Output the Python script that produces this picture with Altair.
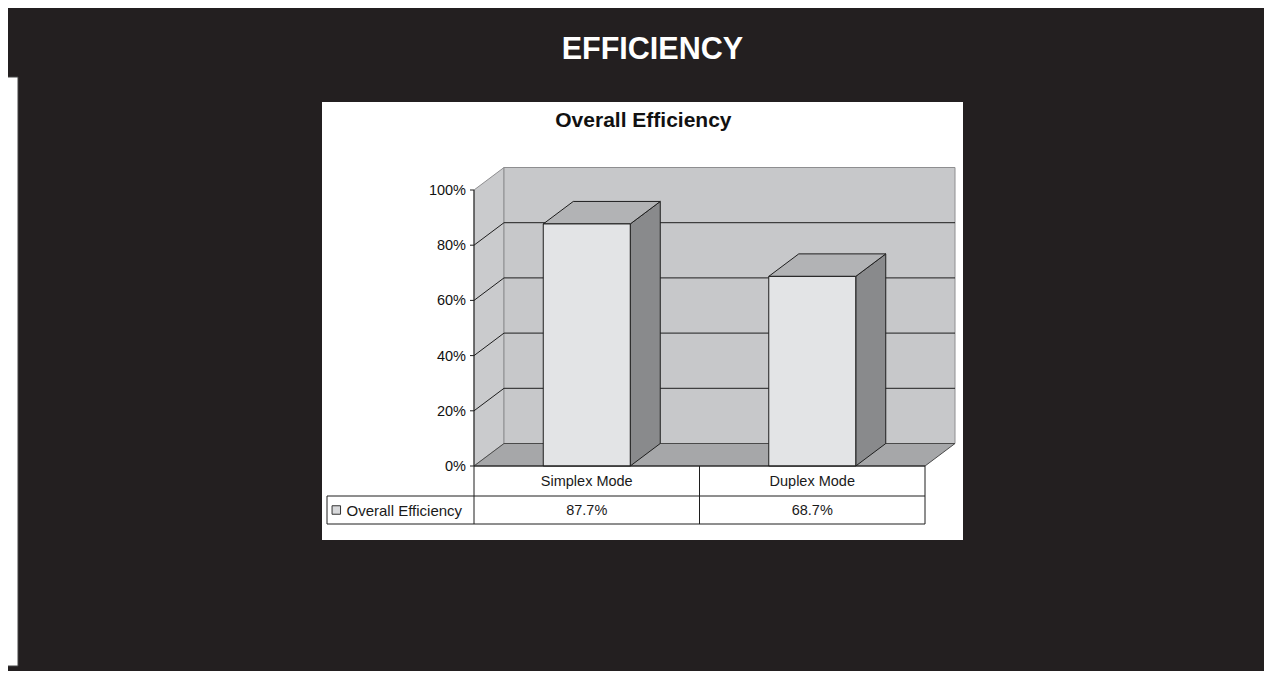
import altair as alt
import pandas as pd

# ---------------- data ----------------
categories = ["Simplex Mode", "Duplex Mode"]
efficiency = [0.877, 0.687]
value_labels = ["87.7%", "68.7%"]
tick_values = [0.0, 0.2, 0.4, 0.6, 0.8, 1.0]
tick_labels = ["0%", "20%", "40%", "60%", "80%", "100%"]
series_name = "Overall Efficiency"
page_title = "EFFICIENCY"
chart_title = "Overall Efficiency"

# ---------------- layout / style constants (pixels) ----------------
PW, PH = 641, 438          # white panel = plot area
AX_X = 152                 # y-axis position inside the panel
BASE_Y = 364               # 0% line inside the panel
UX = 225.5                 # px per category
UY = 276.0                 # px per 100%
DEPTH_X_PX, DEPTH_Y_PX = 30.0, 22.5
BAR_W_PX = 87.0
ROW1_PX, ROW2_PX = 30.0, 58.0
LEG_LEFT_PX = 147.0
TICK_PX = 4.0
LABEL_GAP_PX = 8.0
FONT = "Liberation Sans"

BG = "#231f20"
WALL = "#c7c8ca"
LEFT_WALL = "#cacbcd"
FLOOR = "#a6a7a9"
BAR_FRONT = "#e3e4e6"
BAR_TOP = "#b2b3b5"
BAR_SIDE = "#898a8c"
EDGE_GRAY = "#8e8e90"
INK = "#1e1e1e"

DX = DEPTH_X_PX / UX
DY = DEPTH_Y_PX / UY
BW = BAR_W_PX / UX
R1 = ROW1_PX / UY
R2 = ROW2_PX / UY
XL = -LEG_LEFT_PX / UX
n = len(categories)

xs = alt.Scale(domain=[-AX_X / UX, (PW - AX_X) / UX], nice=False, zero=False)
ys = alt.Scale(domain=[-(PH - BASE_Y) / UY, BASE_Y / UY], nice=False, zero=False)


def X(f):
    return alt.X(f, type="quantitative", scale=xs, axis=None, stack=False)


def Y(f):
    return alt.Y(f, type="quantitative", scale=ys, axis=None, stack=False)


# ---------------- walls & floor ----------------
left_wall = alt.Chart(pd.DataFrame({"x": [0, DX], "lo": [0, DY], "hi": [1, 1 + DY]})).mark_area(
    fill=LEFT_WALL, stroke=EDGE_GRAY, strokeWidth=1, interpolate="linear"
).encode(x=X("x"), y=Y("hi"), y2="lo")

back_wall = alt.Chart(pd.DataFrame({"x": [DX], "x2": [n + DX], "y": [DY], "y2": [1 + DY]})).mark_rect(
    fill=WALL, stroke=EDGE_GRAY, strokeWidth=1
).encode(x=X("x"), x2="x2", y=Y("y"), y2="y2")

floor = alt.Chart(pd.DataFrame({"y": [0, DY], "l": [0, DX], "r": [n, n + DX]})).mark_area(
    fill=FLOOR, stroke="#4a4a4a", strokeWidth=1, orient="horizontal", interpolate="linear"
).encode(y=Y("y"), x=X("l"), x2="r")

grid_vals = tick_values[1:-1]
grid_back = alt.Chart(pd.DataFrame({"y": [t + DY for t in grid_vals], "x": DX, "x2": n + DX})).mark_rule(
    color=INK, strokeWidth=1
).encode(x=X("x"), x2="x2", y=Y("y"))

gl_rows = []
for t in grid_vals:
    gl_rows.append({"t": t, "x": 0.0, "y": t})
    gl_rows.append({"t": t, "x": DX, "y": t + DY})
grid_left = alt.Chart(pd.DataFrame(gl_rows)).mark_line(color=INK, strokeWidth=1).encode(
    x=X("x"), y=Y("y"), detail="t:N"
)

# ---------------- bars ----------------
front_rows, side_rows, top_rows = [], [], []
for i, (c, v) in enumerate(zip(categories, efficiency)):
    xl = i + 0.5 - BW / 2
    xr = i + 0.5 + BW / 2
    front_rows.append({"cat": c, "xl": xl, "xr": xr, "lo": 0.0, "v": v})
    side_rows.append({"cat": c, "x": xr, "lo": 0.0, "hi": v})
    side_rows.append({"cat": c, "x": xr + DX, "lo": DY, "hi": v + DY})
    top_rows.append({"cat": c, "y": v, "l": xl, "r": xr})
    top_rows.append({"cat": c, "y": v + DY, "l": xl + DX, "r": xr + DX})

bar_side = alt.Chart(pd.DataFrame(side_rows)).mark_area(
    fill=BAR_SIDE, stroke=INK, strokeWidth=1, interpolate="linear"
).encode(x=X("x"), y=Y("hi"), y2="lo", detail="cat:N")

bar_top = alt.Chart(pd.DataFrame(top_rows)).mark_area(
    fill=BAR_TOP, stroke=INK, strokeWidth=1, orient="horizontal", interpolate="linear"
).encode(y=Y("y"), x=X("l"), x2="r", detail="cat:N")

bar_front = alt.Chart(pd.DataFrame(front_rows)).mark_rect(
    fill=BAR_FRONT, stroke=INK, strokeWidth=1
).encode(x=X("xl"), x2="xr", y=Y("lo"), y2="v")

# ---------------- y axis: line, ticks, labels ----------------
axis_line = alt.Chart(pd.DataFrame({"x": [0.0], "top": [1.0], "bot": [-R2]})).mark_rule(
    color=INK, strokeWidth=1
).encode(x=X("x"), y=Y("top"), y2="bot")

tick_df = pd.DataFrame({"v": tick_values, "x": -TICK_PX / UX, "x2": 0.0,
                        "lx": -LABEL_GAP_PX / UX, "label": tick_labels})
axis_ticks = alt.Chart(tick_df).mark_rule(color=INK, strokeWidth=1).encode(
    x=X("x"), x2="x2", y=Y("v")
)
axis_labels = alt.Chart(tick_df).mark_text(
    font=FONT, fontSize=14.5, color="#111111", align="right", baseline="middle", dy=1
).encode(x=X("lx"), y=Y("v"), text="label:N")

# ---------------- data table ----------------
h_rules = pd.DataFrame(
    {"y": [0.0, -R1, -R2], "x": [0.0, XL, XL], "x2": [float(n), float(n), float(n)]}
)
table_h = alt.Chart(h_rules).mark_rule(color=INK, strokeWidth=1).encode(x=X("x"), x2="x2", y=Y("y"))

v_rules = pd.DataFrame(
    {"x": [float(k) for k in range(1, n + 1)] + [XL],
     "y": [0.0] * n + [-R1],
     "y2": [-R2] * n + [-R2]}
)
table_v = alt.Chart(v_rules).mark_rule(color=INK, strokeWidth=1).encode(x=X("x"), y=Y("y"), y2="y2")

cat_df = pd.DataFrame({"x": [i + 0.5 for i in range(n)], "y": -R1 / 2, "label": categories})
cat_text = alt.Chart(cat_df).mark_text(
    font=FONT, fontSize=14.5, color="#1a1a1a", baseline="middle", align="center", dy=1
).encode(x=X("x"), y=Y("y"), text="label:N")

val_df = pd.DataFrame({"x": [i + 0.5 for i in range(n)], "y": -(R1 + R2) / 2, "label": value_labels})
val_text = alt.Chart(val_df).mark_text(
    font=FONT, fontSize=14.5, color="#1a1a1a", baseline="middle", align="center", dy=1
).encode(x=X("x"), y=Y("y"), text="label:N")

leg_sq = alt.Chart(pd.DataFrame({"x": [XL + 9.3 / UX], "y": [-(R1 + R2) / 2]})).mark_square(
    size=72, filled=True, color="#d8d9db", stroke="#333333", strokeWidth=1, opacity=1
).encode(x=X("x"), y=Y("y"))

leg_text = alt.Chart(pd.DataFrame({"x": [XL + 19.5 / UX], "y": [-(R1 + R2) / 2], "label": [series_name]})).mark_text(
    font=FONT, fontSize=15, color="#1a1a1a", baseline="middle", align="left", dy=1
).encode(x=X("x"), y=Y("y"), text="label:N")

# ---------------- titles & decoration ----------------
inner_title = alt.Chart(pd.DataFrame({"t": [chart_title]})).mark_text(
    font=FONT, fontSize=21, fontWeight="bold", color="#111111", align="center", baseline="alphabetic"
).encode(text="t:N", x=alt.value(321.4), y=alt.value(25.3))

outer_title = alt.Chart(pd.DataFrame({"t": [page_title]})).mark_text(
    font=FONT, fontSize=30.5, fontWeight="bold", color="#ffffff", align="center", baseline="alphabetic"
).encode(text="t:N", x=alt.value(330.4), y=alt.value(-43.5))

side_strip = alt.Chart(pd.DataFrame({"a": [1]})).mark_rect(
    fill="#ffffff", stroke="#444444", strokeWidth=1
).encode(x=alt.value(-317), x2=alt.value(-304), y=alt.value(-25), y2=alt.value(564))

chart = alt.layer(
    side_strip,
    left_wall,
    back_wall,
    floor,
    grid_back,
    grid_left,
    bar_side,
    bar_top,
    bar_front,
    axis_line,
    axis_ticks,
    axis_labels,
    table_h,
    table_v,
    cat_text,
    val_text,
    leg_sq,
    leg_text,
    inner_title,
    outer_title,
).properties(
    width=PW,
    height=PH,
    autosize=alt.AutoSizeParams(type="none"),
    padding={"left": 314, "top": 94, "right": 301, "bottom": 131},
).configure(
    background=BG
).configure_view(
    fill="#ffffff", strokeWidth=0
)

chart.save("out.html", embed_options={"renderer": "svg", "actions": False})
